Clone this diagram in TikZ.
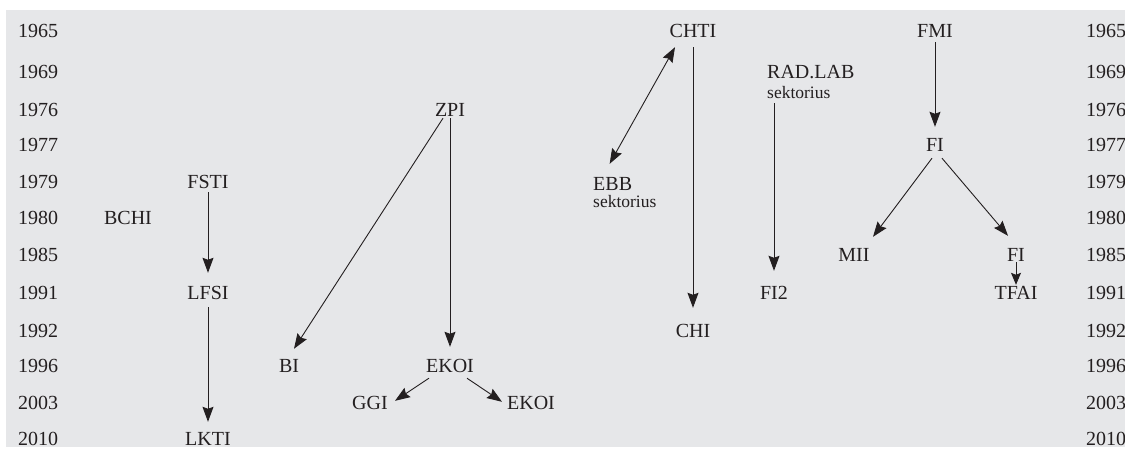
\documentclass[tikz,border=0pt]{standalone}
\usepackage{fontspec}
\setmainfont{Liberation Serif}
\usetikzlibrary{arrows.meta}
\definecolor{panelgray}{RGB}{230,231,233}
\definecolor{ink}{RGB}{35,31,32}
\newcommand\lblfont{\fontsize{20}{23}\selectfont}
\newcommand\sekfont{\fontsize{17.5}{20}\selectfont}
\tikzset{
  lbl/.style={inner sep=0pt, text height=13pt, text depth=0pt, anchor=base, font=\lblfont, text=ink},
  lblw/.style={lbl, anchor=base west},
  sek/.style={inner sep=0pt, text height=11pt, text depth=0pt, anchor=base west, font=\sekfont, text=ink},
  arr/.style={draw=ink, line width=0.9pt, -{Stealth[length=15pt,width=11pt,inset=2pt]}},
  darr/.style={draw=ink, line width=0.9pt, {Stealth[length=15pt,width=11pt,inset=2pt]}-{Stealth[length=15pt,width=11pt,inset=2pt]}},
  sarr/.style={draw=ink, line width=0.9pt, -{Stealth[length=12pt,width=10pt,inset=2pt]}}
}
\begin{document}
\begin{tikzpicture}[x=1pt,y=-1pt]
\useasboundingbox (0,0) rectangle (1125,453);
\fill[panelgray] (6,10) rectangle (1125,447);

% year scales on both sides
\foreach \yr/\b in {1965/37,1969/78,1976/116,1977/151,1979/188,1980/224,
                    1985/261,1991/299,1992/337,1996/372,2003/409,2010/445}{
  \node[lbl] (L\yr) at (38,\b) {\yr};
  \node[lblw] (R\yr) at (1086,\b) {\yr};
}

% institutes
\node[lbl] (bchi) at (128,224) {BCHI};
\node[lbl] (fsti) at (208,188) {FSTI};
\node[lbl] (lfsi) at (208,299) {LFSI};
\node[lbl] (lkti) at (208,445) {LKTI};

\node[lbl] (zpi) at (450,116) {ZPI};
\node[lbl] (bi) at (289,372) {BI};
\node[lbl] (ekoi) at (450,372) {EKOI};
\node[lbl] (ggi) at (370,409) {GGI};
\node[lbl] (ekoib) at (531,409) {EKOI};

\node[lbl] (chti) at (693,37) {CHTI};
\node[lblw] (ebb) at (593,190) {EBB};
\node[sek] (ebbs) at (593,207) {sektorius};
\node[lbl] (chi) at (693,337) {CHI};

\node[lblw] (radlab) at (767,78) {RAD.LAB};
\node[sek] (radsek) at (767,98) {sektorius};
\node[lbl] (fi2) at (774,299) {FI2};

\node[lbl] (fmi) at (935,37) {FMI};
\node[lbl] (fi) at (935,151) {FI};
\node[lbl] (mii) at (854,261) {MII};
\node[lbl] (fib) at (1016,261) {FI};
\node[lbl] (tfai) at (1016,299) {TFAI};

% succession arrows
\draw[arr, shorten <=4pt, shorten >=13pt] (fsti.south) -- (lfsi.north);
\draw[arr, shorten <=8pt, shorten >=10pt] (lfsi.south) -- (lkti.north);

\draw[arr, shorten <=2pt, shorten >=12pt] (zpi.south) -- (ekoi.north);
\draw[arr] ([xshift=-7pt,yshift=-2pt]zpi.south) -- ([xshift=5pt,yshift=10pt]bi.north);
\draw[arr] ([xshift=-21pt,yshift=-6pt]ekoi.south) -- ([xshift=25pt,yshift=-5pt]ggi.north);
\draw[arr] ([xshift=17pt,yshift=-6pt]ekoi.south) -- ([xshift=-29pt,yshift=-6pt]ekoib.north);

\draw[darr] ([xshift=-18pt,yshift=-10pt]chti.south) -- ([xshift=-3pt,yshift=13pt]ebb.north);
\draw[arr, shorten <=10pt, shorten >=16pt] (chti.south) -- (chi.north);

\draw[arr, shorten >=15pt] ([xshift=7pt,yshift=-5pt]radsek.south west) -- (fi2.north);

\draw[arr, shorten <=5pt, shorten >=11pt] (fmi.south) -- (fi.north);
\draw[arr] ([xshift=-3pt,yshift=-7pt]fi.south) -- ([xshift=19pt,yshift=11pt]mii.north);
\draw[arr] ([xshift=7pt,yshift=-7pt]fi.south) -- ([xshift=-8pt,yshift=12pt]fib.north);
\draw[sarr, shorten <=1pt, shorten >=1pt] (fib.south) -- (tfai.north);
\end{tikzpicture}
\end{document}
